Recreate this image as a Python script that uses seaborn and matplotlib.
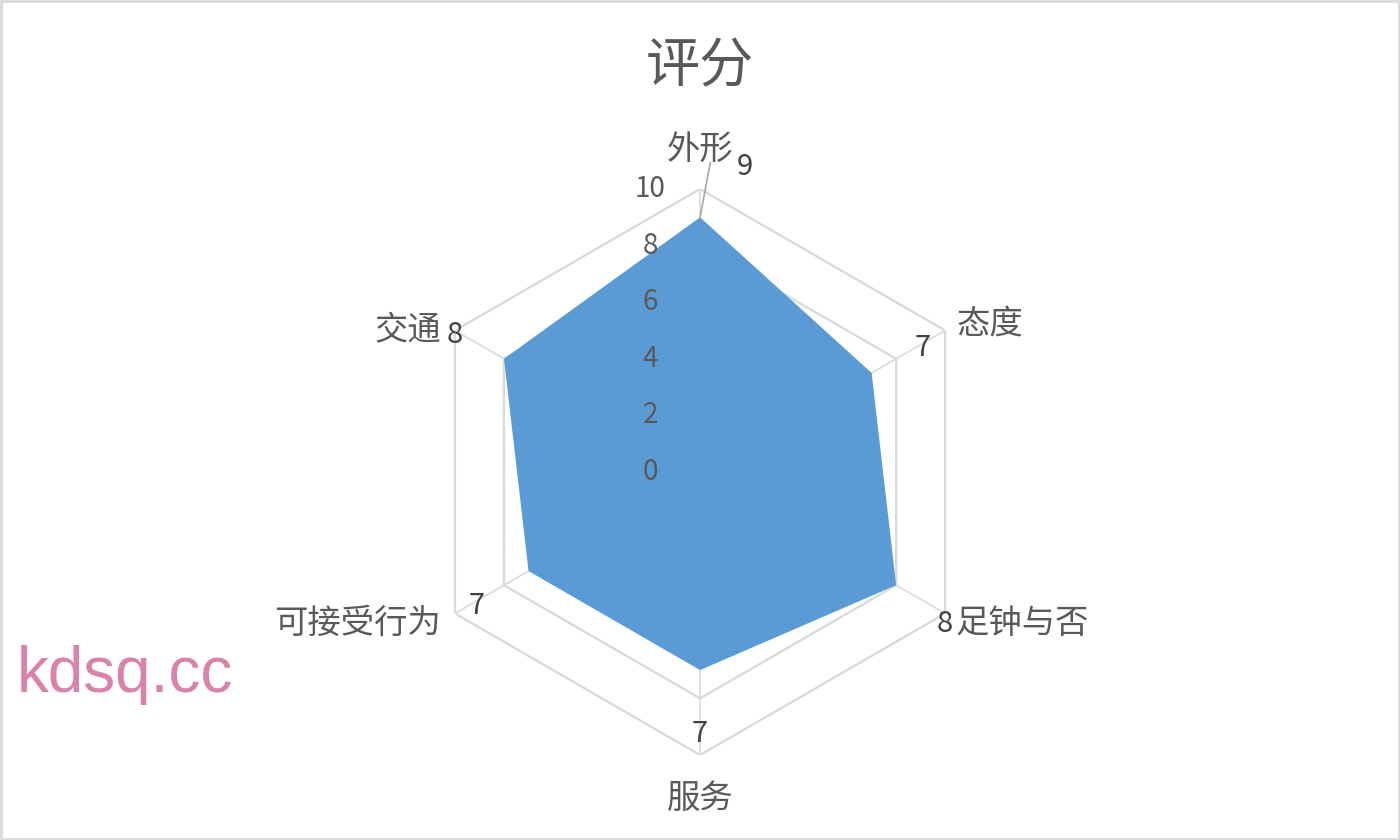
import matplotlib.pyplot as plt
import numpy as np
import seaborn as sns

categories = ["外形", "态度", "足钟与否", "服务", "可接受行为", "交通"]
scores = [9, 7, 8, 7, 7, 8]
rticks = [0, 2, 4, 6, 8, 10]
title = "评分"

sns.set_theme(style="white")
plt.rcParams['font.family'] = ['Noto Sans CJK SC', 'DejaVu Sans']

fig = plt.figure(figsize=(14, 8.4), dpi=100)
ax = fig.add_axes([0.2979, 0.1012, 0.4043, 0.6738], projection="polar")
ax.set_theta_offset(np.pi / 2)
ax.set_theta_direction(-1)

n = len(categories)
angles = np.linspace(0, 2 * np.pi, n, endpoint=False)
closed = np.append(angles, angles[0])

# hexagon grid
for r in rticks[1:]:
    ax.plot(closed, [r] * (n + 1), color="#d9d9d9", lw=1.6, zorder=1)
for a in angles:
    ax.plot([a, a], [0, rticks[-1]], color="#d9d9d9", lw=1.2, zorder=1)

vals = np.append(scores, scores[0])
ax.fill(closed, vals, color="#5b9bd5", zorder=2, lw=0)

ax.set_ylim(0, rticks[-1])
ax.set_xticks([])
ax.set_yticks([])
ax.grid(False)
ax.spines["polar"].set_visible(False)
ax.set_facecolor("none")

# radial tick labels
for r in rticks:
    ax.annotate(str(r), xy=(0, r), xytext=(-36, 0), textcoords="offset points",
                ha="center", va="center", fontsize=20, color="#595959", zorder=5,
                annotation_clip=False)

# category labels
cat_pos = [(0, 11.4, "center"), (np.deg2rad(63), 11.5, "left"), (np.deg2rad(120), 10.1, "left"),
           (np.pi, 11.4, "center"), (np.deg2rad(240), 10.0, "right"), (np.deg2rad(300), 10.0, "right")]
cat_shift = [(0, 0), (-24, 0), (6, -6), (0, -3), (-10, -7), (-10, 0)]
for cat, (a, r, ha), d in zip(categories, cat_pos, cat_shift):
    ax.annotate(cat, xy=(a, r), xytext=d, textcoords="offset points",
                ha=ha, va="center", fontsize=24, color="#595959", annotation_clip=False)

# value labels
for i, (a, v) in enumerate(zip(angles, scores)):
    if i == 0:
        la, lr = np.deg2rad(8.3), v + 2.06
        ax.plot([a, np.deg2rad(1.9)], [v, v + 1.95], color="#a6a6a6", lw=1.2, zorder=3,
                clip_on=False)
    elif i == 2:
        la, lr = np.deg2rad(121), v + 2.1
    else:
        la, lr = a, v + 2.1 if v == 7 else v + 2.0
    ax.annotate(str(v), xy=(la, lr), xytext=(0, -3.5), textcoords="offset points",
                ha="center", va="center", fontsize=21, color="#404040", zorder=5,
                annotation_clip=False)

fig.text(0.5, 0.92, title, ha="center", va="center", fontsize=39, color="#595959")
fig.text(0.012, 0.196, "kdsq.cc", ha="left", va="center", fontsize=46, color="#d982aa",
         family=["Liberation Sans", "DejaVu Sans"])

fig.patches.append(plt.Rectangle((0.001, 0.001), 0.998, 0.998, transform=fig.transFigure,
                                 fill=False, edgecolor="#d9d9d9", lw=2))

fig.savefig("out.png", dpi=100, facecolor="white")
